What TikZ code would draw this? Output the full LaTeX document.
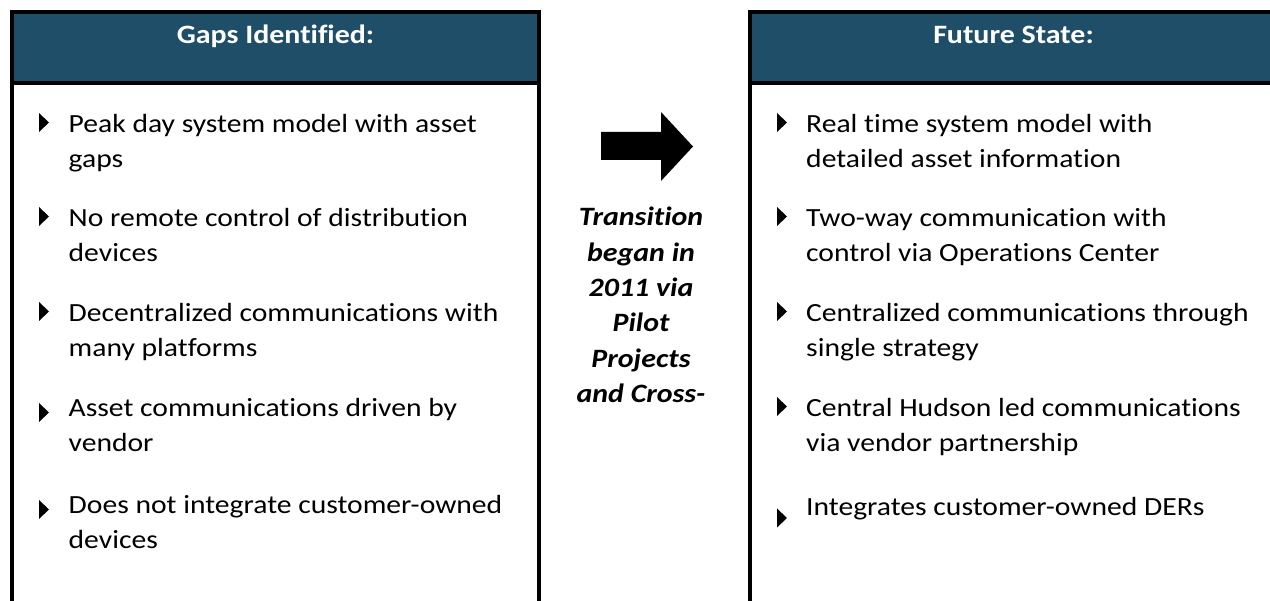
\documentclass[tikz,border=0pt]{standalone}
\usepackage{fontspec}
\setmainfont{Carlito}[FakeStretch=1.13, Ligatures=NoCommon]
\definecolor{hdr}{HTML}{1F4E69}
\tikzset{
  boxline/.style={draw=black, line width=3.6pt},
  hdrbox/.style={boxline, fill=hdr},
  hdrtext/.style={text=white, font=\fontsize{26.5}{32}\selectfont\bfseries, anchor=base},
  item/.style={anchor=base west, inner sep=0pt, align=left, font=\fontsize{26.2}{35}\selectfont},
  trans/.style={anchor=base, inner sep=0pt, align=center, font=\fontsize{26.5}{35.3}\selectfont\bfseries\itshape},
  pics/tri/.style={code={\fill[black] (0,-9.5) -- (10,0) -- (0,9.5) -- cycle;}}
}
\begin{document}
\begin{tikzpicture}[x=1pt,y=-1pt]
\useasboundingbox (0,0) rectangle (1270,601);
\clip (0,0) rectangle (1270,601);
% left box
\draw[boxline, fill=white] (12,12) rectangle (539,640);
\draw[hdrbox] (12,12) rectangle (539,83);
\node[hdrtext] (lh) at (275.5,43.5) {Gaps Identified:};
% right box
\draw[boxline, fill=white] (750,12) rectangle (1277,640);
\draw[hdrbox] (750,12) rectangle (1277,83);
\node[hdrtext] (rh) at (1013.5,43.5) {Future State:};
% left bullets (node base = baseline of last line)
\pic at (39,122.5) {tri};
\node[item] (l1) at (68.5,168) {Peak day system model with asset\\gaps};
\pic at (39,216.5) {tri};
\node[item] (l2) at (68.5,262) {No remote control of distribution\\devices};
\pic at (39,311.5) {tri};
\node[item] (l3) at (68.5,357) {Decentralized communications with\\many platforms};
\pic at (39,412.5) {tri};
\node[item] (l4) at (68.5,452) {Asset communications driven by\\vendor};
\pic at (39,509.5) {tri};
\node[item] (l5) at (68.5,548) {Does not integrate customer-owned\\devices};
% right bullets
\pic at (777,122.5) {tri};
\node[item] (r1) at (806,168) {Real time system model with\\detailed asset information};
\pic at (777,216.5) {tri};
\node[item] (r2) at (806,262) {Two-way communication with\\control via Operations Center};
\pic at (777,311.5) {tri};
\node[item] (r3) at (806,357) {Centralized communications through\\single strategy};
\pic at (777,406.5) {tri};
\node[item] (r4) at (806,452) {Central Hudson led communications\\via vendor partnership};
\pic at (777,518) {tri};
\node[item] (r5) at (806,515) {Integrates customer-owned DERs};
% arrow
\fill[black] (601,132) -- (661,132) -- (661,112) -- (693,146.5) -- (661,181) -- (661,160) -- (601,160) -- cycle;
\node[trans] (tt) at (641,402.5) {Transition\\began in\\2011 via\\Pilot\\Projects\\and Cross-};
\end{tikzpicture}
\end{document}
